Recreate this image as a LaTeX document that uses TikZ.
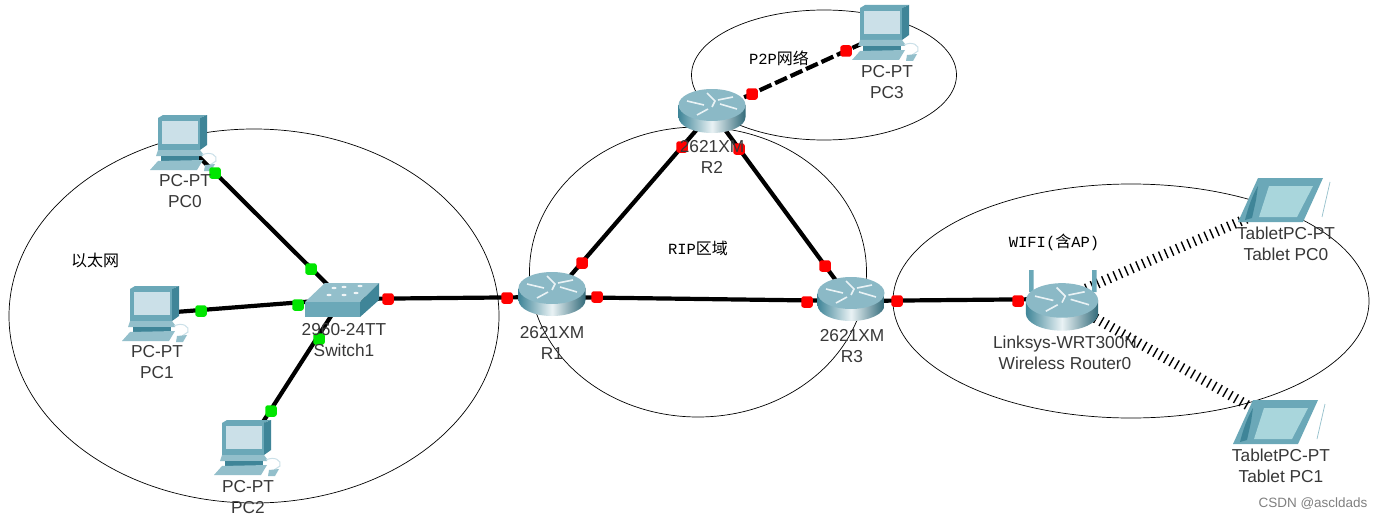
\documentclass[tikz,border=0pt]{standalone}
\usepackage{fontspec}
\usepackage{xcolor}
\setmainfont{Liberation Sans}
\newfontfamily\cjk{Noto Sans CJK SC}
\newfontfamily\tagmono{Liberation Mono}
\usetikzlibrary{shapes.geometric}
\definecolor{iconbody}{HTML}{6BA8B8}
\definecolor{icondark}{HTML}{3F8598}
\definecolor{iconpale}{HTML}{93BFCB}
\definecolor{iconscreen}{HTML}{CBE0E8}
\definecolor{tabscreen}{HTML}{A9D6DC}
\tikzset{
    pcicon/.pic={
        \fill[iconbody] (8,3) -- (13,0) -- (57,0) -- (50,3) -- cycle;
        \fill[icondark] (50,3) -- (57,0) -- (57,30) -- (50,35) -- cycle;
        \fill[iconbody] (8,3) rectangle (50,35);
        \fill[iconscreen] (12,6) rectangle (48,29);
        \fill[iconpale] (8,35) -- (50,35) -- (53,39) -- (53,41) -- (6,41) -- cycle;
        \fill[icondark] (11,41) rectangle (49,46);
        \fill[iconpale] (0,55) -- (8,46) -- (53,45) -- (47,55) -- cycle;
        \draw[iconscreen, line width=1pt] (52,40) .. controls (60,36) and (68,40) .. (66,46) -- (60,50);
        \fill[iconpale] (55,50) -- (65,49) -- (61,56) -- (54,56) -- cycle;
    },
    switchicon/.pic={
        \fill[iconpale] (-37,2) -- (-17,-17) -- (37,-17) -- (18,2) -- cycle;
        \fill[iconbody] (-37,2) rectangle (18,17);
        \fill[icondark] (18,2) -- (37,-17) -- (37,0) -- (18,17) -- cycle;
        \foreach \px/\py in {-13/-5, 2/-5, 2/-13, 18/-14, 14/-7, -8/-12}
            \fill[white!85!iconpale] (\px,\py) ellipse [x radius=2.5, y radius=1.2];
    },
    routericon/.pic={
        \shade[left color=icondark, right color=icondark!80!black, middle color=white!80!iconpale]
            (-33.5,-7) -- (-33.5,5) arc [start angle=180, end angle=360, x radius=33.5, y radius=-16] -- (33.5,-7) -- cycle;
        \fill[iconpale!90!icondark] (0,-7) ellipse [x radius=33.5, y radius=16];
        \draw[white!80!iconpale, line width=1.6pt]
            (-25,-11) -- (-8,-7) (-5,-19) -- (3,-11) -- (0,-5) (25,-3) -- (8,-8)
            (21,-15) -- (6,-12) (-15,3) -- (-4,-3);
    },
    tableticon/.pic={
        \fill[iconbody] (-42,18) -- (-22,-26) -- (43,-26) -- (23,18) -- cycle;
        \fill[tabscreen] (-21,13) -- (-11,-18) -- (33,-18) -- (17,13) -- cycle;
        \fill[icondark] (-35,16) .. controls (-32,4) and (-28,-8) .. (-22,-18) -- (-24,-4) -- (-28,14) -- cycle;
        \draw[iconpale, line width=0.7pt] (50,-22) -- (42,13);
    }
}
\begin{document}
\begin{tikzpicture}[
        x=1pt, y=-1pt,
        zone/.style={draw=black, line width=0.7pt, ellipse, inner sep=0pt},
        anchorbox/.style={inner sep=0pt, minimum size=2pt},
        link/.style={line width=4.2pt, black},
        serial/.style={link, dash pattern=on 13pt off 4pt},
        wifi/.style={line width=10pt, black, dash pattern=on 1.4pt off 4.8pt},
        port/.style={inner sep=0pt, minimum size=11.5pt, rounded corners=2.5pt},
        red port/.style={port, fill=red},
        green port/.style={port, fill=green!90!black},
        devlabel/.style={align=center, text=black!78, font=\fontsize{17.3}{21.5}\selectfont},
        areatag/.style={font=\tagmono\fontsize{15.5}{16}\selectfont}
    ]
        \path[use as bounding box, fill=white] (0,0) rectangle (1381,519);

        \node[zone, minimum width=490pt, minimum height=374pt] (ethernet) at (254,316) {};
        \node[zone, minimum width=337pt, minimum height=290pt] (rip) at (698,272) {};
        \node[zone, minimum width=265pt, minimum height=130pt] (ptp) at (824,75) {};
        \node[zone, minimum width=476pt, minimum height=234pt] (wlan) at (1131,301) {};

        \node[anchorbox] (PC0) at (180,138) {};
        \node[anchorbox] (PC1) at (150,314) {};
        \node[anchorbox] (PC2) at (243,453) {};
        \node[anchorbox] (PC3) at (885,33) {};
        \node[anchorbox] (Sw1) at (342,299) {};
        \node[anchorbox] (R1) at (552,297) {};
        \node[anchorbox] (R2) at (712,112) {};
        \node[anchorbox] (R3) at (851,301) {};
        \node[anchorbox] (WRT) at (1062,299) {};
        \node[anchorbox] (TB0) at (1280,204) {};
        \node[anchorbox] (TB1) at (1275,421) {};

        \draw[link] (PC0) -- (Sw1); \draw[link] (PC1) -- (Sw1);
        \draw[link] (PC2) -- (Sw1); \draw[link] (Sw1) -- (R1);
        \draw[link] (R1) -- (R2); \draw[link] (R2) -- (R3);
        \draw[link] (R1) -- (R3); \draw[link] (R3) -- (WRT);
        \draw[serial] (R2) -- (PC3);
        \draw[wifi] (WRT) -- (TB0); \draw[wifi] (WRT) -- (TB1);

        \pic at (150,115) {pcicon};
        \pic at (122,286) {pcicon};
        \pic at (214,420) {pcicon};
        \pic at (852,5) {pcicon};
        \pic at (342,300) {switchicon};
        \pic at (552,295) {routericon};
        \pic at (712,112) {routericon};
        \pic at (851,300) {routericon};
        \fill[iconbody] (1029,270) rectangle (1033.5,292) (1092,270) rectangle (1096.5,292);
        \pic[scale=1.08] at (1062,308) {routericon};
        \pic at (1280,204) {tableticon};
        \pic at (1275,426) {tableticon};

        \node[green port] (p0a) at (215,173) {};
        \node[green port] (p0b) at (311,269) {};
        \node[green port] (p1a) at (201,311) {};
        \node[green port] (p1b) at (298,305) {};
        \node[green port] (p2a) at (271,411) {};
        \node[green port] (p2b) at (319,339) {};
        \node[red port] (sa) at (388,299) {};
        \node[red port] (r1w) at (507,298) {};
        \node[red port] (r1n) at (582,263) {};
        \node[red port] (r1e) at (597,297) {};
        \node[red port] (r2s) at (682,147) {};
        \node[red port] (r2t) at (739,149) {};
        \node[red port] (r2e) at (752,94) {};
        \node[red port] (pc3p) at (846,51) {};
        \node[red port] (r3n) at (825,266) {};
        \node[red port] (r3w) at (807,302) {};
        \node[red port] (r3e) at (897,301) {};
        \node[red port] (wrtp) at (1018,301) {};

        \node[devlabel] (lPC0) at (185,191) {PC-PT\\PC0};
        \node[devlabel] (lPC1) at (157,362) {PC-PT\\PC1};
        \node[devlabel] (lPC2) at (248,497) {PC-PT\\PC2};
        \node[devlabel] (lPC3) at (887,82) {PC-PT\\PC3};
        \node[devlabel] (lSw1) at (344,340) {2960-24TT\\Switch1};
        \node[devlabel] (lR1) at (552,343) {2621XM\\R1};
        \node[devlabel] (lR2) at (712,157) {2621XM\\R2};
        \node[devlabel] (lR3) at (852,346) {2621XM\\R3};
        \node[devlabel] (lWRT) at (1065,353) {Linksys-WRT300N\\Wireless Router0};
        \node[devlabel] (lTB0) at (1286,244) {TabletPC-PT\\Tablet PC0};
        \node[devlabel] (lTB1) at (1281,466) {TabletPC-PT\\Tablet PC1};

        \node[areatag] (tEth) at (95,260) {{\cjk\fontsize{16}{16}\selectfont 以太网}};
        \node[areatag] (tPtp) at (779,58) {P2P{\cjk\fontsize{16}{16}\selectfont 网络}};
        \node[areatag] (tRip) at (698,248) {RIP{\cjk\fontsize{16}{16}\selectfont 区域}};
        \node[areatag] (tWifi) at (1054,242) {WIFI({\cjk\fontsize{16}{16}\selectfont 含}AP)};
        \node[text=black!50, font=\fontsize{13.5}{15}\selectfont] (mark) at (1313,504) {CSDN @ascldads};
    \end{tikzpicture}
\end{document}
